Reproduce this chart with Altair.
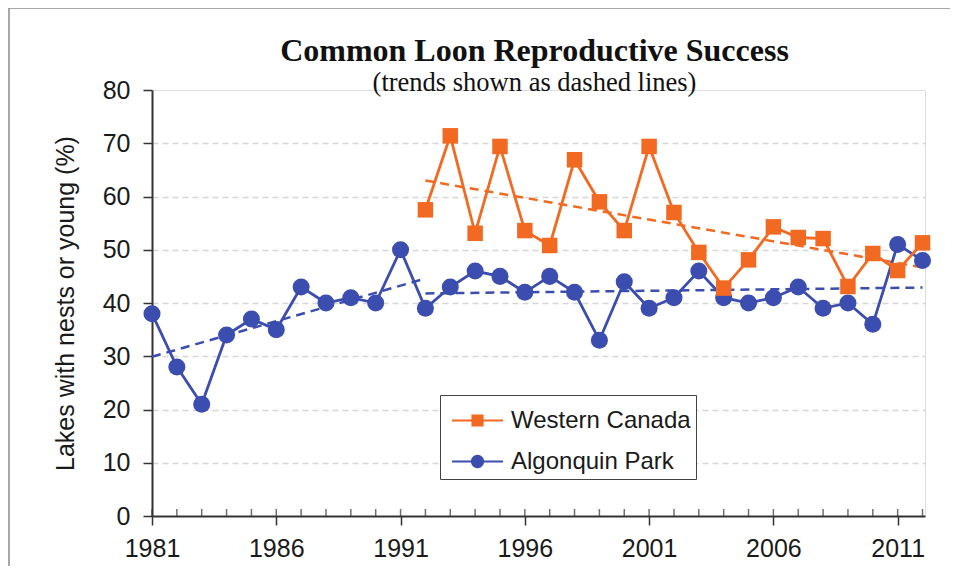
import altair as alt
import pandas as pd

# ---- data ----
years_ap = list(range(1981, 2013))
algonquin = [38, 28, 21, 34, 37, 35, 43, 40, 41, 40, 50, 39, 43, 46, 45, 42,
             45, 42, 33, 44, 39, 41, 46, 41, 40, 41, 43, 39, 40, 36, 51, 48]
years_wc = list(range(1992, 2013))
western = [57.5, 71.4, 53.1, 69.4, 53.6, 50.8, 66.9, 59.0, 53.6, 69.4, 57.0,
           49.5, 42.8, 48.1, 54.3, 52.3, 52.1, 43.1, 49.3, 46.1, 51.3]

# dashed trend lines (end points)
ap_trend_segment = ["early", "early", "late", "late"]
ap_trend_years = [1981, 1992, 1992, 2012]
ap_trend_values = [29.9, 44.6, 41.8, 42.9]
wc_trend_years = [1992, 2012]
wc_trend_values = [63.0, 46.7]

series_names = ["Western Canada", "Algonquin Park"]
series_colors = ["#F26A21", "#3B4DAE"]
legend_paths = [
    "M-1.31,0H1.31M-0.26,-0.26H0.26V0.26H-0.26Z",
    "M-1.31,0H1.31M0.29,0A0.29,0.29,0,1,1,-0.29,0A0.29,0.29,0,1,1,0.29,0Z",
]

x_ticks = [1981, 1986, 1991, 1996, 2001, 2006, 2011]
y_ticks = [0, 10, 20, 30, 40, 50, 60, 70, 80]

ap_df = pd.DataFrame({"year": years_ap, "value": algonquin})
wc_df = pd.DataFrame({"year": years_wc, "value": western})
ap_trend_df = pd.DataFrame({"year": ap_trend_years, "value": ap_trend_values,
                            "segment": ap_trend_segment})
wc_trend_df = pd.DataFrame({"year": wc_trend_years, "value": wc_trend_values})
minor_df = pd.DataFrame({"year": years_ap})
legend_df = pd.DataFrame({"series": series_names})
one = pd.DataFrame({"a": [0]})

FONT = "Liberation Sans"
AX = "#333333"

x_scale = alt.Scale(domain=[1981, 2012.1], nice=False, zero=False)
y_scale = alt.Scale(domain=[0, 80], nice=False)

x_axis = alt.Axis(values=x_ticks, format="d", title=None, grid=False,
                  tickSize=9, tickWidth=1.5, tickColor=AX,
                  domainWidth=2, domainColor=AX, labelFlush=False,
                  labelFont=FONT, labelFontSize=25, labelColor="#1a1a1a",
                  labelPadding=11)
y_axis = alt.Axis(values=y_ticks, title="Lakes with nests or young (%)",
                  tickSize=9, tickWidth=1.5, tickColor=AX,
                  domainWidth=2, domainColor=AX, labelFlush=False,
                  labelFont=FONT, labelFontSize=25, labelColor="#1a1a1a",
                  labelPadding=13,
                  titleFont=FONT, titleFontSize=25, titleFontWeight="normal",
                  titleColor="#1a1a1a", titlePadding=24,
                  grid=True, gridColor="#d6d6d6", gridDash=[6, 4], gridWidth=1.5,
                  gridOpacity={"condition": {"test": "datum.value === 80 || datum.value === 0",
                                             "value": 0}, "value": 1})

X = alt.X("year:Q", scale=x_scale, axis=x_axis)
Y = alt.Y("value:Q", scale=y_scale, axis=y_axis)

# frame around the figure (decoration)
frame_top = alt.Chart(one).mark_rule(color="#8a8a8a", strokeWidth=1.5).encode(
    x=alt.value(-143), x2=alt.value(800), y=alt.value(-82))
frame_left = alt.Chart(one).mark_rule(color="#8a8a8a", strokeWidth=1.5).encode(
    x=alt.value(-143), y=alt.value(-82), y2=alt.value(480))

# minor year ticks (inside, above the axis)
minor = alt.Chart(minor_df).mark_tick(orient="vertical", size=7, thickness=1.5,
                                       color=AX, yOffset=-3.5).encode(
    x=X, y=alt.datum(0, scale=y_scale))

ap_trend = alt.Chart(ap_trend_df).mark_line(
    strokeDash=[9, 6], strokeWidth=2.5, color=series_colors[1]).encode(
    x=X, y=Y, detail="segment:N")
wc_trend = alt.Chart(wc_trend_df).mark_line(
    strokeDash=[9, 6], strokeWidth=2.5, color=series_colors[0]).encode(x=X, y=Y)

ap_line = alt.Chart(ap_df).mark_line(color=series_colors[1], strokeWidth=2.8).encode(x=X, y=Y)
ap_pts = alt.Chart(ap_df).mark_circle(color=series_colors[1], size=290, opacity=1).encode(x=X, y=Y)
wc_line = alt.Chart(wc_df).mark_line(color=series_colors[0], strokeWidth=2.8).encode(x=X, y=Y)
wc_pts = alt.Chart(wc_df).mark_point(shape="square", filled=True, color=series_colors[0],
                                     size=240, opacity=1).encode(x=X, y=Y)

leg = alt.Legend(orient="none", legendX=288, legendY=305, title=None,
                 labelFont=FONT, labelFontSize=24, labelColor="#1a1a1a", labelLimit=400,
                 symbolSize=1521, symbolStrokeWidth=2, strokeColor="#444444",
                 fillColor="white", padding=5, rowPadding=8, labelOffset=13,
                 symbolOffset=12)
legend_layer = alt.Chart(legend_df).transform_filter("false").mark_point(
    filled=True, opacity=1, strokeWidth=2).encode(
    fill=alt.Fill("series:N", scale=alt.Scale(domain=series_names, range=series_colors), legend=leg),
    stroke=alt.Stroke("series:N", scale=alt.Scale(domain=series_names, range=series_colors), legend=leg),
    shape=alt.Shape("series:N", scale=alt.Scale(domain=series_names, range=legend_paths), legend=leg),
)

chart = alt.layer(
    frame_top, frame_left, minor, ap_trend, wc_trend, ap_line, wc_line, ap_pts, wc_pts, legend_layer
).properties(
    width=773, height=426,
    autosize=alt.AutoSizeParams(type="none"),
    padding={"left": 144, "top": 82, "right": 25, "bottom": 50},
    title=alt.TitleParams(
        text="Common Loon Reproductive Success",
        subtitle="(trends shown as dashed lines)",
        font="Liberation Serif", fontSize=32, fontWeight="bold", color="#111111",
        subtitleFont="Liberation Serif", subtitleFontSize=26.5, subtitleColor="#111111",
        anchor="middle", offset=8, subtitlePadding=2, dx=-4, dy=98,
    ),
).configure_view(stroke=None).configure(background="white")

chart.save("out.html", embed_options={"renderer": "svg", "actions": False})
